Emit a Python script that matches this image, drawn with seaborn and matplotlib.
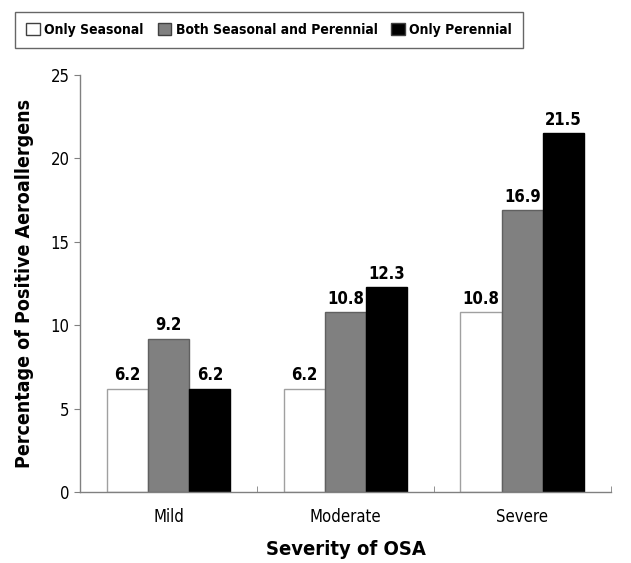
import pandas as pd
import matplotlib.pyplot as plt
import seaborn as sns
import numpy as np

severity = ['Mild', 'Moderate', 'Severe']
groups = ['Only Seasonal', 'Both Seasonal and Perennial', 'Only Perennial']
only_seasonal = [6.2, 6.2, 10.8]
both = [9.2, 10.8, 16.9]
only_perennial = [6.2, 12.3, 21.5]

df = pd.DataFrame({
    'Severity': severity * 3,
    'Group': [groups[0]] * 3 + [groups[1]] * 3 + [groups[2]] * 3,
    'Value': only_seasonal + both + only_perennial,
})

sns.set_style('white')
plt.rcParams['font.family'] = ['DejaVu Sans']
plt.rcParams['font.stretch'] = 'condensed'
plt.rcParams['text.color'] = 'black'
plt.rcParams['axes.labelcolor'] = 'black'
plt.rcParams['xtick.color'] = 'black'
plt.rcParams['ytick.color'] = 'black'

fig = plt.figure(figsize=(6.31, 5.63), dpi=100)
ax = fig.add_axes([0.127, 0.126, 0.841, 0.741])

palette = {groups[0]: 'white', groups[1]: '#808080', groups[2]: 'black'}
sns.barplot(data=df, x='Severity', y='Value', hue='Group', palette=palette,
            width=0.7, ax=ax, legend=False)

# bar outlines and value labels
edges = ['#a0a0a0', '#606060', 'black']
for container, ec in zip(ax.containers, edges):
    for bar in container:
        bar.set_edgecolor(ec)
        bar.set_linewidth(1)
    ax.bar_label(container, fmt='%.1f', padding=3, fontsize=12, fontweight='bold')

ax.set_ylim(0, 25)
ax.set_xlim(-0.5, 2.5)
ax.set_yticks(range(0, 26, 5))
ax.tick_params(axis='y', left=True, length=4, color='#808080', labelsize=12)
ax.tick_params(axis='x', bottom=False, labelsize=12, pad=8)
ax.set_xticks([-0.5, 0.5, 1.5, 2.5], minor=True)
ax.tick_params(axis='x', which='minor', bottom=True, direction='in', length=4, color='#808080')
for side in ['top', 'right']:
    ax.spines[side].set_visible(False)
for side in ['left', 'bottom']:
    ax.spines[side].set_color('#808080')
    ax.spines[side].set_linewidth(1)

ax.set_xlabel('Severity of OSA', fontsize=14.5, fontweight='bold', labelpad=10)
ax.set_ylabel('Percentage of Positive Aeroallergens', fontsize=14, fontweight='bold', labelpad=12)

handles = [plt.Rectangle((0, 0), 1, 1, facecolor=palette[g], edgecolor='#404040') for g in groups]
leg = fig.legend(handles, groups, loc='upper left', bbox_to_anchor=(0.024, 0.979), ncol=3,
                 frameon=True, fancybox=False, edgecolor='#404040', handlelength=1.0,
                 handleheight=1.0, handletextpad=0.3, columnspacing=1.0, borderaxespad=0,
                 prop={'weight': 'bold', 'size': 10, 'stretch': 'condensed'}, borderpad=0.8)
leg.get_frame().set_linewidth(1)

plt.savefig('out.png', dpi=100)
plt.close()
